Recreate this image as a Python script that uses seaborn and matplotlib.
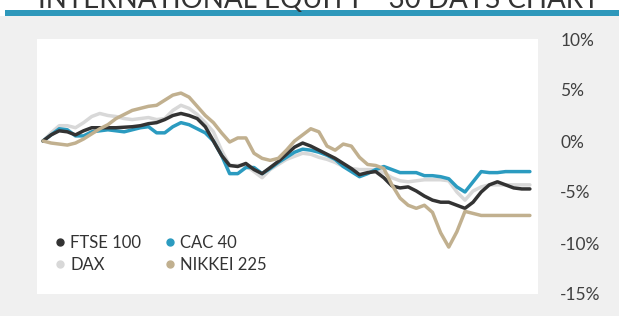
import matplotlib
matplotlib.use("Agg")
import matplotlib.pyplot as plt
from matplotlib.lines import Line2D
from matplotlib.patches import Rectangle
import seaborn as sns
import pandas as pd

# readings taken twice per trading day, cumulative % change
ftse = [0.0, 0.6, 1.0, 0.9, 0.6, 1.0, 1.3, 1.3, 1.3, 1.3, 1.35, 1.4, 1.5, 1.7, 1.8, 2.1,
        2.5, 2.7, 2.5, 2.2, 1.4, 0.0, -1.4, -2.4, -2.5, -2.2, -2.8, -3.2, -2.6, -2.0, -1.3,
        -0.6, -0.2, -0.5, -0.9, -1.3, -1.7, -2.2, -2.7, -3.3, -3.1, -3.0, -3.6, -4.4, -4.6,
        -4.5, -4.9, -5.4, -5.8, -6.0, -6.0, -6.3, -6.6, -6.0, -5.0, -4.3, -4.0, -4.3, -4.6,
        -4.7, -4.7]
cac = [0.0, 0.6, 1.2, 1.1, 0.5, 0.5, 0.9, 1.0, 1.1, 1.0, 0.9, 1.1, 1.3, 1.4, 0.8, 0.8,
       1.4, 1.8, 1.6, 1.2, 0.8, 0.0, -1.4, -3.2, -3.2, -2.6, -2.6, -3.2, -2.7, -2.1, -1.6,
       -1.1, -0.8, -0.9, -1.1, -1.4, -1.8, -2.5, -3.0, -3.5, -3.2, -2.8, -2.5, -2.8, -3.1,
       -3.1, -3.1, -3.4, -3.4, -3.5, -3.7, -4.5, -5.0, -4.0, -3.0, -3.1, -3.1, -3.0, -3.0,
       -3.0, -3.0]
dax = [0.0, 0.8, 1.5, 1.5, 1.3, 1.8, 2.4, 2.7, 2.5, 2.4, 2.2, 2.1, 2.2, 2.3, 2.1, 2.2,
       3.0, 3.5, 3.2, 2.6, 1.8, 0.9, -0.9, -2.4, -2.4, -2.4, -3.0, -3.6, -2.8, -2.3, -1.8,
       -1.5, -1.2, -1.3, -1.6, -1.8, -2.1, -2.5, -2.7, -2.8, -2.8, -2.8, -3.1, -3.6, -3.9,
       -4.0, -3.9, -3.8, -3.8, -3.8, -3.9, -5.0, -5.8, -4.9, -4.5, -4.3, -4.3, -4.3, -4.3,
       -4.3, -4.3]
nikkei = [0.0, -0.2, -0.3, -0.4, -0.2, 0.2, 0.7, 1.2, 1.6, 2.2, 2.6, 3.0, 3.2, 3.4, 3.5, 4.0,
          4.5, 4.7, 4.3, 3.4, 2.5, 1.8, 0.8, -0.1, 0.3, 0.3, -1.2, -1.7, -1.9, -1.7, -0.9,
          0.0, 0.6, 1.2, 0.9, -0.5, -0.9, -0.3, -0.5, -1.6, -2.3, -2.4, -2.7, -4.3, -5.6,
          -6.3, -6.6, -6.3, -7.0, -9.0, -10.4, -8.9, -6.9, -7.1, -7.3, -7.3, -7.3, -7.3, -7.3,
          -7.3, -7.3]
steps = list(range(len(ftse)))

names = ["DAX", "CAC 40", "FTSE 100", "NIKKEI 225"]
colors = {"FTSE 100": "#333333", "CAC 40": "#2b9bc0", "DAX": "#d8d8d8", "NIKKEI 225": "#c1b08f"}
yticks = [10, 5, 0, -5, -10, -15]

df = pd.concat([
    pd.DataFrame({"step": steps, "pct": vals, "index": name})
    for name, vals in zip(names, [dax, cac, ftse, nikkei])
])

sns.set_style("white")
plt.rcParams["font.family"] = ["Lato", "DejaVu Sans"]

W, H = 619, 316
fig = plt.figure(figsize=(W / 100, H / 100), dpi=100, facecolor="white")

# background bands
fig.add_artist(Rectangle((0, 0), 1, 1 - 16 / H, transform=fig.transFigure,
                         facecolor="#f0f0f0", edgecolor="none", zorder=-10))
fig.add_artist(Rectangle((5 / W, 1 - 16 / H), 1, 6 / H, transform=fig.transFigure,
                         facecolor="#2e98bb", edgecolor="none", zorder=-5))
# title is cropped at the top edge in the original
fig.text(0.515, 1 - 8 / H, "INTERNATIONAL EQUITY - 30 DAYS CHART", ha="center",
         va="baseline", fontsize=20, color="#333333")

ax = fig.add_axes([37 / W, 1 - 294 / H, (538 - 37) / W, (294 - 39) / H])
ax.set_facecolor("white")

sns.lineplot(data=df, x="step", y="pct", hue="index", palette=colors, hue_order=names,
             linewidth=2.5, legend=False, ax=ax)
for ln in ax.get_lines():
    ln.set_solid_joinstyle("round")
    ln.set_solid_capstyle("round")

ax.set_xlim(-0.74, 61.0)
ax.set_ylim(-15, 10)
ax.set_xticks([])
ax.yaxis.tick_right()
ax.set_yticks(yticks)
ax.set_yticklabels([f"{t}%" for t in yticks], fontsize=12.5, color="#404040")
ax.tick_params(axis="y", length=0, pad=16)
ax.set_xlabel("")
ax.set_ylabel("")
for s in ax.spines.values():
    s.set_visible(False)

order = ["FTSE 100", "DAX", "CAC 40", "NIKKEI 225"]
handles = [Line2D([], [], linestyle="none", marker="o", markersize=5, color=colors[n])
           for n in order]
ax.legend(handles, order, ncol=2, frameon=False, loc="upper left",
          bbox_to_anchor=(0.0, 0.29), fontsize=12, handletextpad=0.1,
          columnspacing=1.2, labelspacing=0.35, handlelength=1.0,
          labelcolor="#333333")

fig.savefig("out.png", dpi=100, facecolor=fig.get_facecolor())
